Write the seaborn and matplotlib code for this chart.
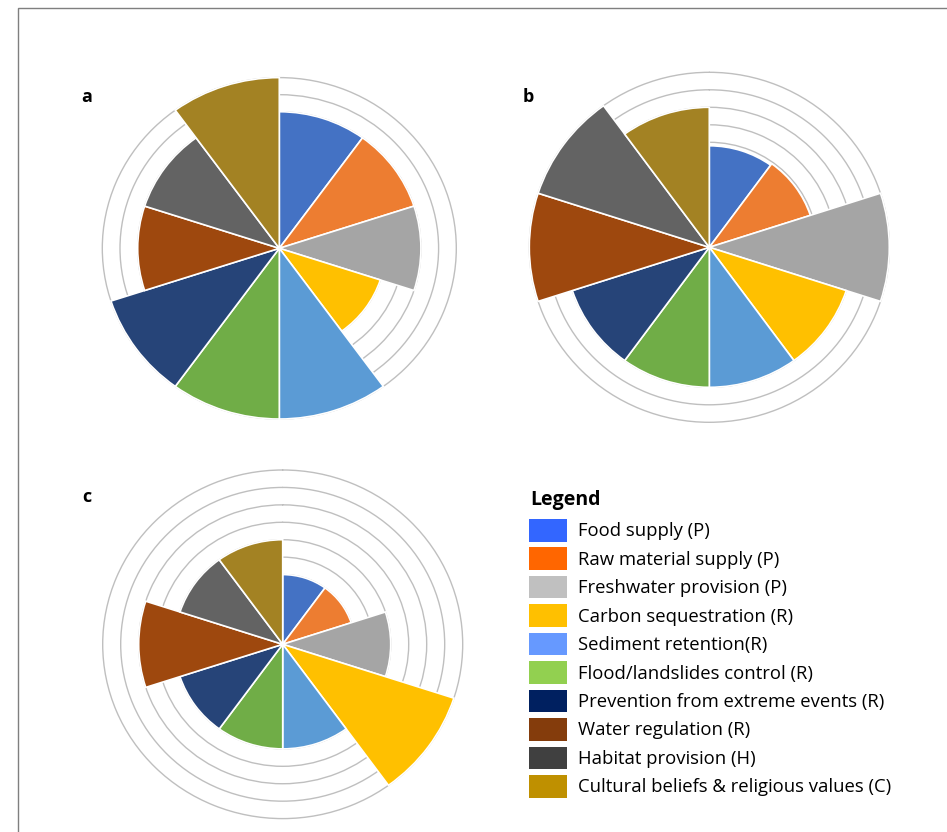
import numpy as np
import matplotlib
matplotlib.use("Agg")
import matplotlib.pyplot as plt
from matplotlib.patches import Patch, Rectangle
import seaborn as sns

# ecosystem services, in slice order (clockwise from north)
services = ["Food supply (P)", "Raw material supply (P)", "Freshwater provision (P)",
            "Carbon sequestration (R)", "Sediment retention(R)", "Flood/landslides control (R)",
            "Prevention from extreme events (R)", "Water regulation (R)",
            "Habitat provision (H)", "Cultural beliefs & religious values (C)"]

scores_a = [8, 8, 8, 6, 10, 10, 10, 8, 8, 10]
scores_b = [5.8, 5.9, 10, 8, 8, 8, 8, 10, 10, 8]
scores_c = [4, 4, 6, 10, 6, 6, 6, 8, 6, 6]

rings = list(range(1, 11))

slice_colors = ["#4472C4", "#ED7D31", "#A5A5A5", "#FFC000", "#5B9BD5",
                "#70AD47", "#264478", "#9E480E", "#636363", "#A38223"]
legend_colors = ["#3366FF", "#FF6600", "#C0C0C0", "#FFC000", "#6699FF",
                 "#92D050", "#002060", "#843C0C", "#404040", "#BF9000"]

sns.set_theme(style="white")
plt.rcParams["font.family"] = ["Open Sans", "DejaVu Sans"]
plt.rcParams["text.color"] = "black"

W, H = 947, 832
fig = plt.figure(figsize=(W / 100, H / 100), dpi=100)

RMAX = 10.4


def polar_panel(label, scores, cx, cy, rx, ry, lx, ly):
    # rx, ry: pixel radius of the outer ring (value 10)
    hw = rx * RMAX / 10
    hh = ry * RMAX / 10
    ax = fig.add_axes([(cx - hw) / W, 1 - (cy + hh) / H, 2 * hw / W, 2 * hh / H],
                      projection="polar")
    ax.set_aspect("auto")
    ax.set_theta_zero_location("N")
    ax.set_theta_direction(-1)
    n = len(scores)
    theta = np.arange(n) * 2 * np.pi / n
    ax.bar(theta, scores, width=2 * np.pi / n, align="edge",
           color=slice_colors, edgecolor="white", linewidth=1.2, zorder=3)
    ax.set_ylim(0, RMAX)
    ax.set_yticks(rings)
    ax.set_yticklabels([])
    ax.set_xticks([])
    ax.yaxis.grid(True, color="#BFBFBF", linewidth=1.0)
    ax.set_axisbelow(True)
    ax.spines["polar"].set_visible(False)
    ax.set_facecolor("none")
    fig.text(lx / W, 1 - ly / H, label, ha="center", va="center",
             fontsize=13, fontweight="bold", color="black")
    return ax


polar_panel("a", scores_a, 279.3, 248.3, 177, 170.7, 87, 97)
polar_panel("b", scores_b, 709.3, 247.3, 180, 175, 528, 97)
polar_panel("c", scores_c, 282.7, 644.3, 180, 174.3, 87, 497)

# legend title drawn separately so the gap to the entries can be set freely
fig.text(530 / W, 1 - 505 / H, "Legend", ha="left", va="baseline",
         fontsize=14, fontweight="bold", color="black")

handles = [Patch(facecolor=c, edgecolor="none") for c in legend_colors]
leg = fig.legend(handles, services, loc="upper left",
                 bbox_to_anchor=(529 / W, 1 - 519 / H), frameon=False,
                 borderpad=0, borderaxespad=0,
                 fontsize=13.3, handlelength=2.05, handleheight=1.5,
                 handletextpad=0.62, labelspacing=0.32)
for t in leg.get_texts():
    t.set_color("black")

# outer frame of the figure
fig.add_artist(Rectangle((18 / W, -0.05), 1.1, 1 - 8 / H + 0.05,
                         transform=fig.transFigure, fill=False,
                         edgecolor="#7F7F7F", linewidth=1.0, clip_on=False))

fig.savefig("out.png", dpi=100, facecolor="white")
